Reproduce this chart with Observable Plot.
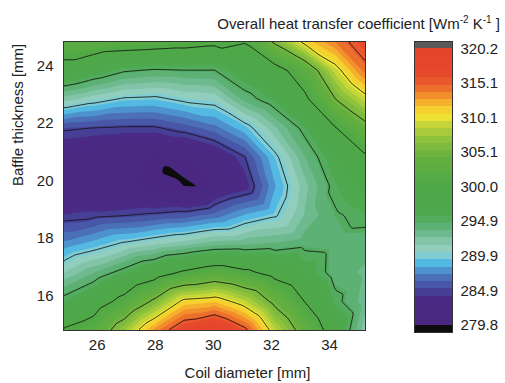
<!DOCTYPE html>
<html>
<head>
<meta charset="utf-8">
<script src="https://cdn.jsdelivr.net/npm/d3@7"></script>
<script src="https://cdn.jsdelivr.net/npm/@observablehq/plot@0.6"></script>
<style>
  html, body { margin: 0; padding: 0; background: #fff; }
  #wrap { position: relative; width: 505px; height: 383px; overflow: hidden;
          font-family: "Liberation Sans", Arial, sans-serif; color: #222; background: #fff; }
  #main, #cbar { position: absolute; top: 0; }
  #main { left: 0; }
  #cbar { left: 405px; }
  #title { position: absolute; right: 5px; top: 16px; font-size: 15px; line-height: 15px; white-space: nowrap; }
  #title .s { font-size: 10px; vertical-align: 6px; line-height: 0; }
</style>
</head>
<body>
<div id="wrap">
  <div id="title">Overall heat transfer coefficient [Wm<span class="s">-2</span> K<span class="s">-1</span> ]</div>
  <div id="main"></div>
  <div id="cbar"></div>
</div>
<script>
// ---- data: overall heat transfer coefficient read on a regular grid ----
const coilDiameter = [24.84, 25.88, 26.92, 27.96, 29.0, 30.04, 31.08, 32.12, 33.16, 34.2, 35.24];            // mm
const baffleThickness = [24.85, 23.845, 22.84, 21.835, 20.83, 19.825, 18.82, 17.815, 16.81, 15.805, 14.8];  // mm (rows, top to bottom)
const U_r0  = [302.6, 302.6, 302.2, 301.9, 301.5, 300.9, 300.2, 305.7, 311.0, 313.9, 316.8];
const U_r1  = [298.5, 296.8, 295.2, 294.7, 294.9, 294.9, 297.1, 298.5, 302.2, 309.1, 314.4];
const U_r2  = [292.0, 290.7, 289.6, 289.4, 290.3, 290.7, 294.0, 296.2, 299.3, 305.0, 309.2];
const U_r3  = [285.1, 284.8, 284.6, 284.6, 285.5, 286.8, 289.0, 292.3, 295.6, 299.8, 303.8];
const U_r4  = [282.4, 281.9, 281.2, 280.8, 280.9, 282.3, 284.8, 289.4, 293.6, 296.8, 299.6];
const U_r5  = [281.9, 281.5, 281.1, 280.5, 279.8, 281.9, 283.3, 288.2, 292.2, 295.6, 297.4];
const U_r6  = [284.1, 284.4, 284.7, 285.1, 285.5, 286.5, 288.4, 289.6, 292.7, 294.7, 295.6];
const U_r7  = [287.6, 288.8, 290.2, 291.2, 292.1, 293.2, 293.4, 293.8, 294.4, 294.2, 294.1];
const U_r8  = [291.5, 293.6, 295.8, 298.1, 300.6, 302.2, 300.8, 298.8, 296.7, 294.1, 293.4];
const U_r9  = [295.8, 297.9, 301.3, 305.7, 310.9, 311.6, 308.9, 304.2, 299.9, 295.5, 293.0];
const U_r10 = [300.4, 302.1, 307.4, 313.2, 317.5, 319.4, 315.9, 308.9, 303.4, 297.9, 291.7];
// minimum ridge (black sliver)
const minX = [28.35, 28.9, 29.42];
const minY = [20.43, 20.1, 19.8];
const minU = [279.55, 279.7, 279.77];

const xTicks = [26, 28, 30, 32, 34];
const yTicks = [16, 18, 20, 22, 24];
const cbarTicks = [279.8, 284.85, 289.9, 294.95, 300.0, 305.05, 310.1, 315.15, 320.2];
const cbarLabels = ["279.8", "284.9", "289.9", "294.9", "300.0", "305.1", "310.1", "315.1", "320.2"];
const lineLevels = [284.85, 289.9, 294.95, 300.0, 305.05, 310.1, 315.15];

// colormap stops (value -> colour)
const stopValues = [279.8, 283.8, 285.0, 286.3, 287.5, 288.5, 289.3, 290.3, 291.5, 293.0, 294.5, 296.0, 300.0, 304.0, 306.5, 308.5, 310.3, 311.5, 313.0, 314.5, 316.0, 320.2];
const stopColors = ["#4a2880", "#4a2a84", "#464a9e", "#4a64b0", "#4d86c6", "#4db2e0", "#5cc2e4", "#97d2c8", "#8ccab4", "#70ba90", "#58ae6c", "#4ea84e", "#4ea846", "#64b040", "#86be3c", "#b4d03a", "#f2e432", "#f7c82e", "#f3982c", "#ec6a2c", "#e74a2c", "#e5432b"];
const lowColor = "#0d0d0d";
const highColor = "#595959";

// ---- build table / scale config ----
const rows = [U_r0, U_r1, U_r2, U_r3, U_r4, U_r5, U_r6, U_r7, U_r8, U_r9, U_r10];
const samples = [];
rows.forEach((row, r) => row.forEach((v, c) => samples.push({x: coilDiameter[c], y: baffleThickness[r], v})));
minX.forEach((x, i) => samples.push({x, y: minY[i], v: minU[i]}));

const cMin = 278.75, cMax = 321.25, nBands = 40;
const edges = d3.range(nBands + 1).map(k => cMin + k * (cMax - cMin) / nBands);
const ramp = d3.scaleLinear().domain(stopValues).range(stopColors).clamp(true);
const bandColors = d3.range(nBands).map(k => k === 0 ? lowColor : k === nBands - 1 ? highColor : ramp((edges[k] + edges[k + 1]) / 2));
const colorScale = {type: "threshold", domain: edges.slice(1, -1), range: bandColors};
const fillLevels = edges.slice(0, -1);

const font = {fontFamily: "'Liberation Sans', Arial, sans-serif", fontSize: "15px", color: "#222", background: "transparent"};

const main = Plot.plot({
  width: 405, height: 383,
  marginLeft: 63, marginRight: 40, marginTop: 41, marginBottom: 53,
  style: font,
  x: {domain: [coilDiameter[0], coilDiameter[coilDiameter.length - 1]], label: null},
  y: {domain: [baffleThickness[baffleThickness.length - 1], baffleThickness[0]], label: null},
  color: colorScale,
  marks: [
    Plot.contour(samples, {x: "x", y: "y", fill: "v", interpolate: "barycentric", thresholds: fillLevels, clip: true}),
    Plot.contour(samples, {x: "x", y: "y", value: "v", interpolate: "barycentric", thresholds: lineLevels, fill: "none", stroke: "#151515", strokeWidth: 0.9, clip: true}),
    Plot.frame({stroke: "#333", strokeWidth: 1}),
    Plot.axisX({ticks: xTicks, tickSize: 0, tickPadding: 9, label: null}),
    Plot.axisY({ticks: yTicks, tickSize: 0, tickPadding: 10, label: null}),
    Plot.text(["Coil diameter [mm]"], {frameAnchor: "bottom", text: d => d, dx: 33, dy: 43, lineAnchor: "middle"}),
    Plot.text(["Baffle thickness [mm]"], {frameAnchor: "left", text: d => d, dx: -45, rotate: -90, lineAnchor: "middle"})
  ]
});
document.getElementById("main").appendChild(main);

const bands = d3.range(nBands).map(k => ({lo: edges[k], hi: edges[k + 1]}));
const cbar = Plot.plot({
  width: 100, height: 383,
  marginLeft: 9, marginRight: 53, marginTop: 41, marginBottom: 51,
  style: font,
  x: {domain: [0, 1], axis: null},
  y: {domain: [cMin, cMax], label: null},
  color: colorScale,
  marks: [
    Plot.rect(bands, {x1: 0, x2: 1, y1: "lo", y2: "hi", fill: "lo", shapeRendering: "crispEdges"}),
    Plot.frame({stroke: "#333", strokeWidth: 1}),
    Plot.axisY({anchor: "right", ticks: cbarTicks, tickFormat: d => cbarLabels[cbarTicks.indexOf(d)], tickSize: 0, tickPadding: 8, label: null})
  ]
});
document.getElementById("cbar").appendChild(cbar);
</script>
</body>
</html>
